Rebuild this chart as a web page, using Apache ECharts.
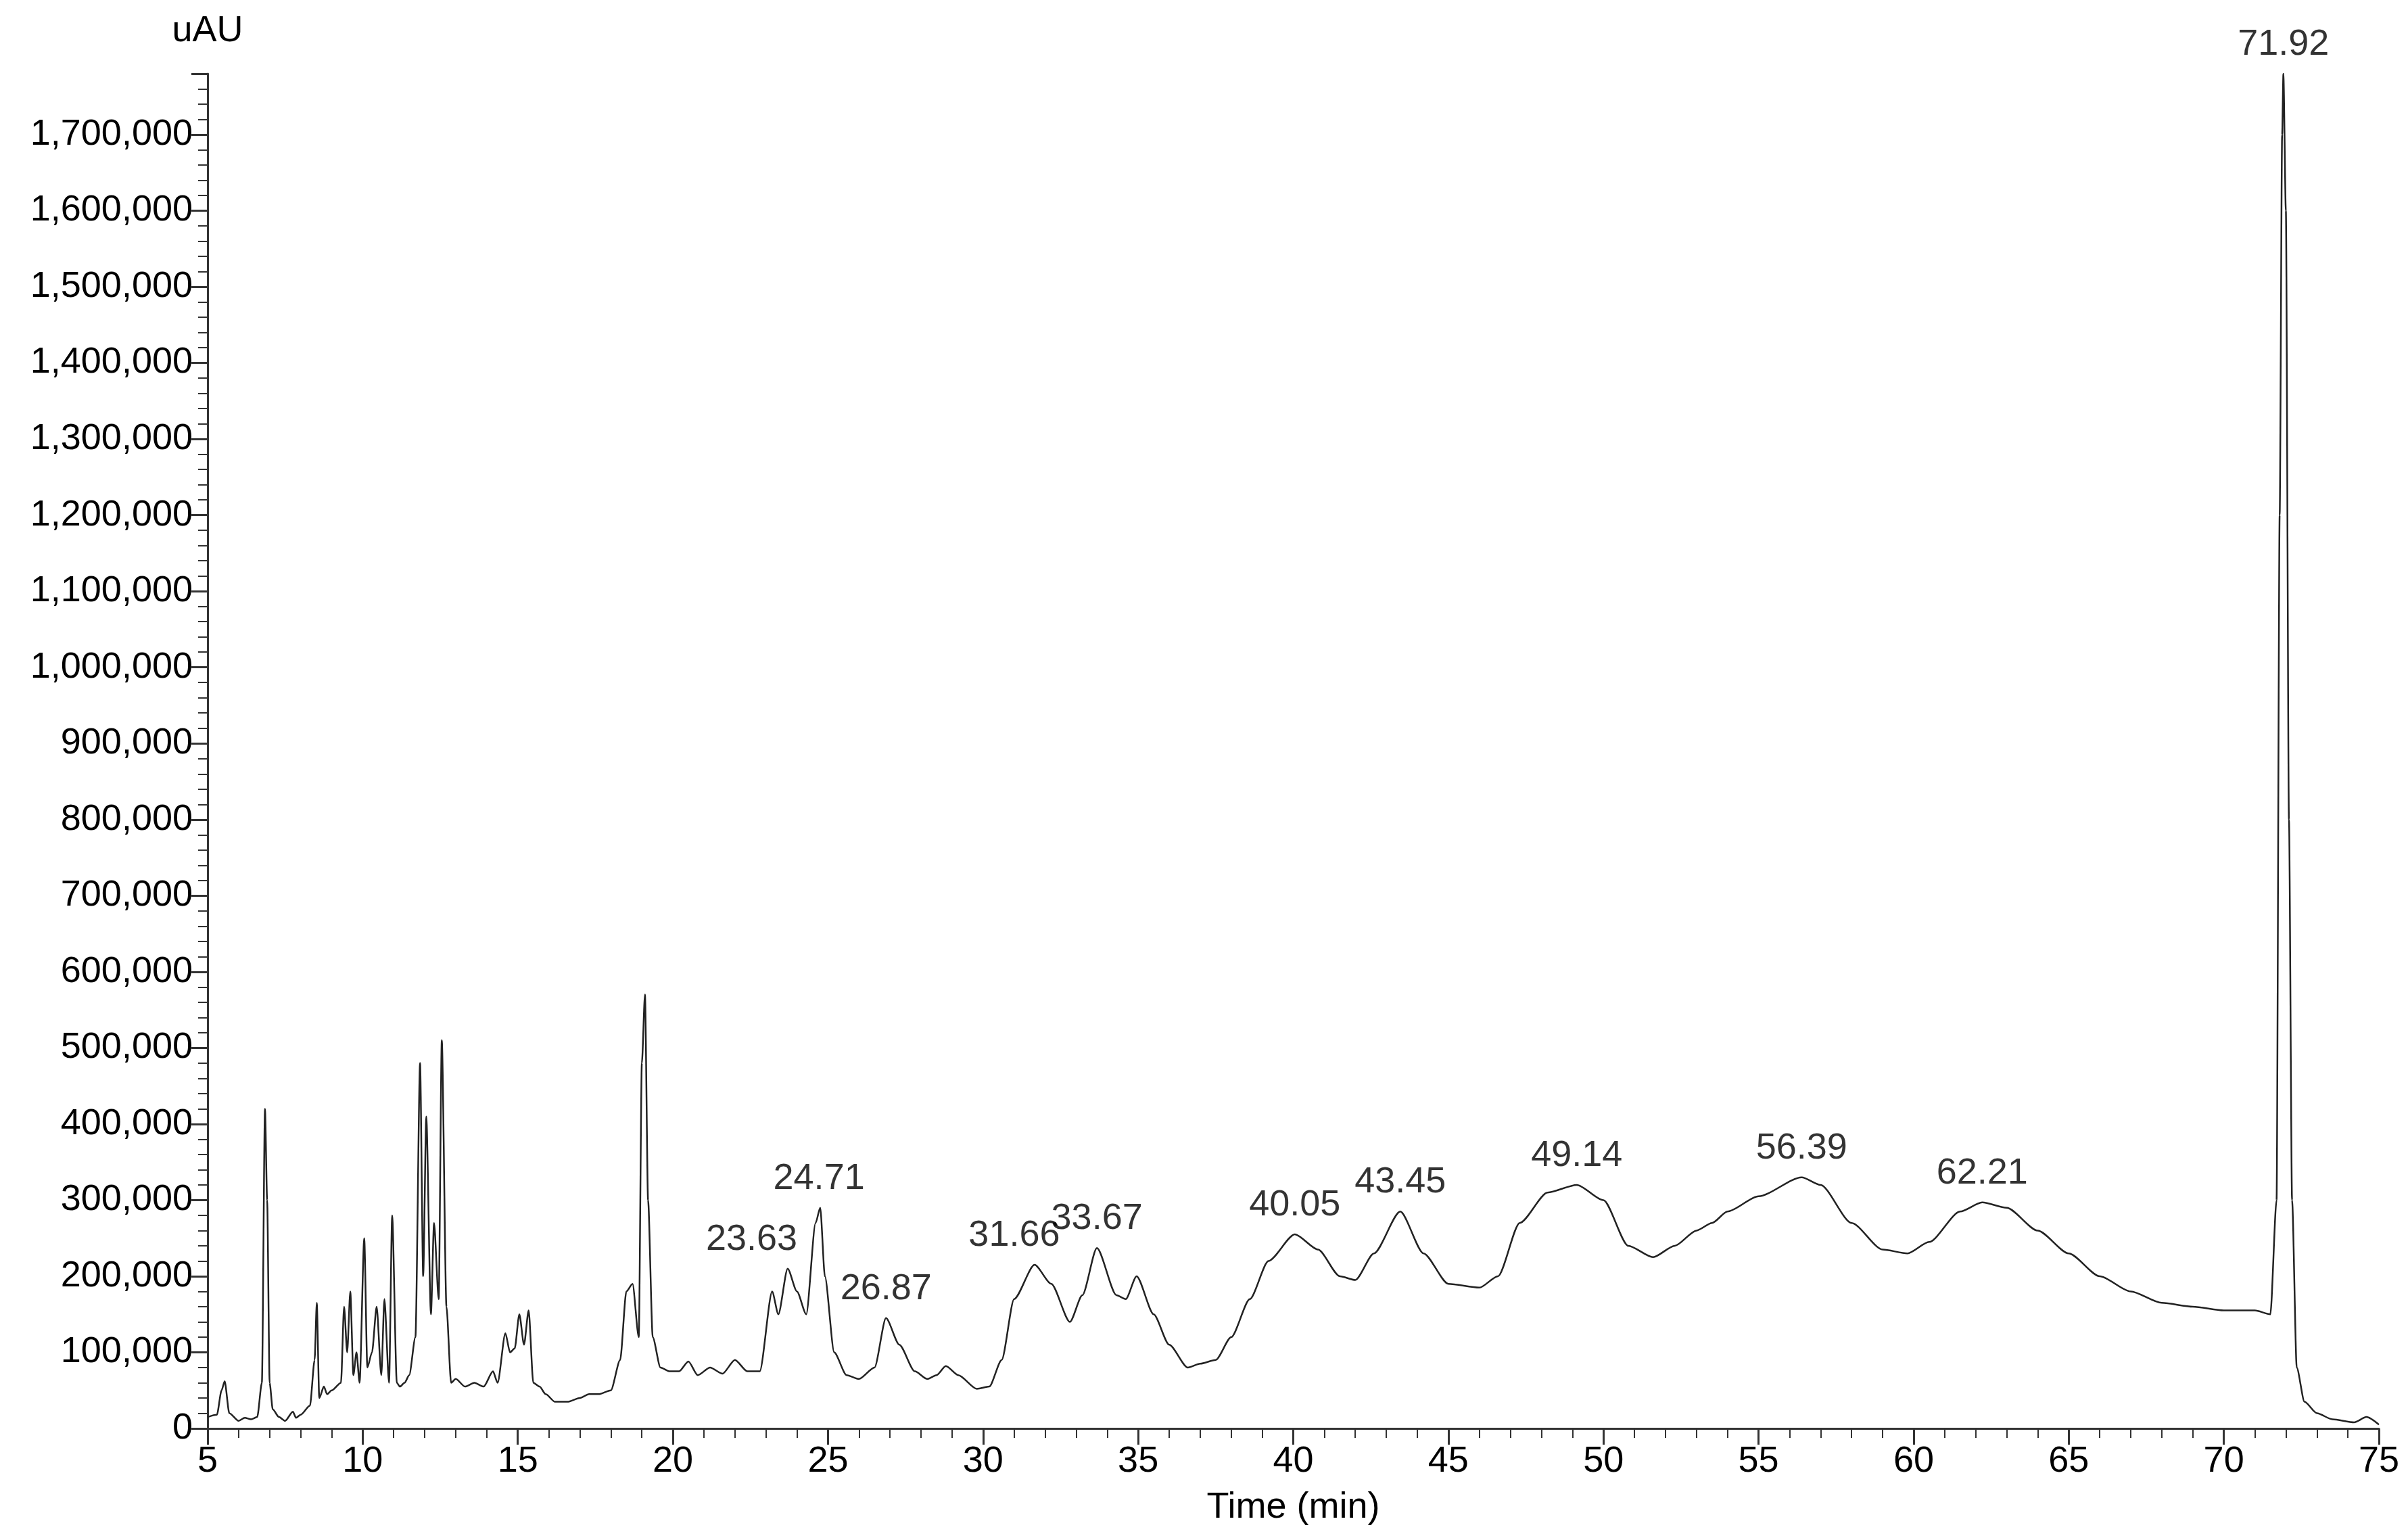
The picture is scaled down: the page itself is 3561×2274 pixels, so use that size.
<!DOCTYPE html>
<html>
<head>
<meta charset="utf-8">
<script src="https://cdn.jsdelivr.net/npm/echarts@6/dist/echarts.min.js"></script>
<style>html,body{margin:0;padding:0;background:#fff}#main{width:3561px;height:2274px}</style>
</head>
<body>
<div id="main"></div>
<script>
// retention time (min)
var times = [5.0,5.3,5.45,5.55,5.7,6.0,6.2,6.4,6.6,6.75,6.85,6.92,7.0,7.1,7.3,7.5,7.75,7.85,8.0,8.3,8.45,8.52,8.6,8.75,8.85,9.0,9.3,9.4,9.5,9.6,9.7,9.8,9.9,10.05,10.15,10.3,10.45,10.6,10.7,10.85,10.95,11.1,11.2,11.35,11.5,11.7,11.85,11.95,12.05,12.2,12.3,12.45,12.55,12.7,12.85,13.0,13.3,13.6,13.9,14.2,14.35,14.6,14.75,14.9,15.05,15.2,15.35,15.5,15.7,15.9,16.2,16.6,17.0,17.3,17.6,18.0,18.3,18.5,18.7,18.9,19.0,19.1,19.2,19.35,19.6,19.9,20.2,20.5,20.8,21.2,21.6,22.0,22.4,22.8,23.2,23.4,23.7,24.0,24.3,24.6,24.75,24.9,25.2,25.6,26.0,26.5,26.87,27.3,27.8,28.2,28.5,28.8,29.2,29.8,30.2,30.6,31.0,31.66,32.2,32.8,33.2,33.67,34.3,34.6,34.95,35.5,36.0,36.6,37.0,37.5,38.0,38.6,39.2,40.05,40.8,41.5,42.0,42.6,43.45,44.2,45.0,46.0,46.6,47.3,48.2,49.14,50.0,50.8,51.6,52.3,53.0,53.5,54.0,55.0,56.39,57.0,58.0,59.0,59.8,60.5,61.5,62.21,63.0,64.0,65.0,66.0,67.0,68.0,69.0,70.0,71.0,71.5,71.7,71.8,71.88,71.92,72.0,72.1,72.2,72.35,72.6,73.0,73.5,74.2,74.6,75.0];
// absorbance (uAU)
var signal = [15000,18000,50000,62000,20000,10000,14000,12000,15000,60000,420000,300000,60000,25000,15000,10000,22000,14000,18000,30000,90000,165000,40000,55000,45000,50000,60000,160000,100000,180000,70000,100000,60000,250000,80000,100000,160000,70000,170000,60000,280000,60000,55000,60000,70000,120000,480000,200000,410000,150000,270000,170000,510000,160000,60000,65000,55000,60000,55000,75000,60000,125000,100000,105000,150000,110000,155000,60000,55000,45000,35000,35000,40000,45000,45000,50000,90000,180000,190000,120000,480000,570000,300000,120000,80000,75000,75000,88000,70000,80000,72000,90000,75000,75000,180000,150000,210000,180000,150000,270000,290000,200000,100000,70000,65000,80000,145000,110000,75000,65000,70000,82000,70000,52000,55000,90000,170000,215000,190000,140000,175000,237000,175000,170000,200000,150000,110000,80000,85000,90000,120000,170000,220000,255000,235000,200000,195000,230000,285000,230000,190000,185000,200000,270000,310000,320000,300000,240000,225000,240000,260000,270000,285000,305000,330000,320000,270000,235000,230000,245000,285000,297000,290000,260000,230000,200000,180000,165000,160000,155000,155000,150000,300000,1200000,1700000,1780000,1600000,800000,300000,80000,35000,20000,12000,8000,15000,5000];
// labelled peaks
var peakTimes = [23.63,24.71,26.87,31.66,33.67,40.05,43.45,49.14,56.39,62.21,71.92];
var peakValues = [210000,290000,145000,215000,237000,255000,285000,320000,330000,297000,1780000];
var peakShift = [-50,0,0,-30,0,0,0,0,0,0,0];

var trace = times.map(function(t, i){ return [t, signal[i]]; });
var peaks = peakTimes.map(function(t, i){
	return { value: [t, peakValues[i]], label: { offset: [peakShift[i], 0] } };
});

var font = 'Liberation Sans, Arial, sans-serif';
var fs = 54;
var chart = echarts.init(document.getElementById('main'));
chart.setOption({
	animation: false,
	backgroundColor: '#fff',
	grid: { left: 307, right: 43, top: 109, bottom: 162 },
	xAxis: {
		type: 'value', min: 5, max: 75, interval: 5,
		name: 'Time (min)', nameLocation: 'middle', nameGap: 90,
		nameTextStyle: { fontFamily: font, fontSize: fs, color: '#000' },
		axisLine: { lineStyle: { color: '#333', width: 3 } },
		axisTick: { length: 24, lineStyle: { color: '#333', width: 3 } },
		minorTick: { show: true, splitNumber: 5, length: 14, lineStyle: { color: '#333', width: 2 } },
		axisLabel: { fontFamily: font, fontSize: fs, color: '#000', margin: 22 },
		splitLine: { show: false }
	},
	yAxis: {
		type: 'value', min: 0, max: 1780000, interval: 100000,
		name: 'uAU', nameGap: 36, nameLocation: 'end',
		nameTextStyle: { fontFamily: font, fontSize: fs, color: '#000', align: 'center' },
		axisLine: { show: true, lineStyle: { color: '#333', width: 3 } },
		axisTick: { show: true, length: 24, lineStyle: { color: '#333', width: 3 } },
		minorTick: { show: true, splitNumber: 5, length: 14, lineStyle: { color: '#333', width: 2 } },
		axisLabel: { fontFamily: font, fontSize: fs, color: '#000', margin: 22, showMaxLabel: false,
			formatter: function(v){ return v.toLocaleString('en-US'); } },
		splitLine: { show: false }
	},
	series: [
		{ type: 'line', data: trace, symbol: 'none', smooth: 0.25, smoothMonotone: 'x',
			lineStyle: { color: '#222', width: 2.5 } },
		{ type: 'scatter', data: peaks, symbolSize: 0, clip: false,
			label: { show: true, position: 'top', distance: 16, fontFamily: font, fontSize: fs, color: '#000',
				formatter: function(p){ return p.value[0].toFixed(2); } } }
	]
});
</script>
</body>
</html>
